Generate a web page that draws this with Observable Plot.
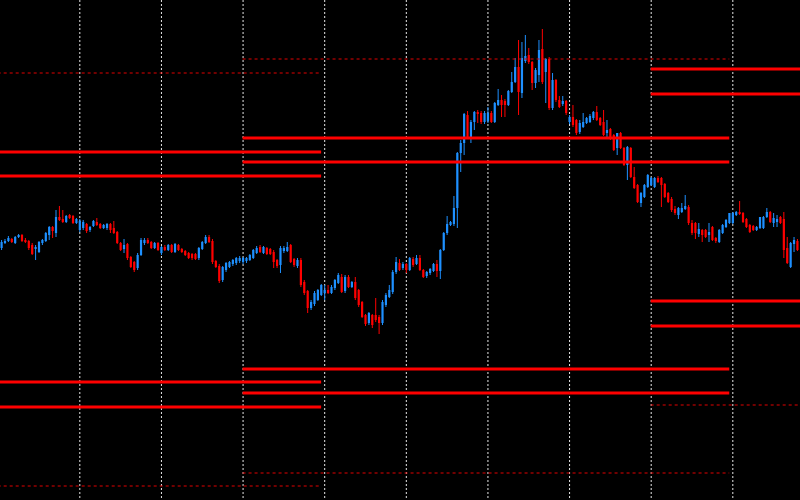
<!DOCTYPE html>
<html><head><meta charset="utf-8">
<script src="https://cdn.jsdelivr.net/npm/d3@7"></script>
<script src="https://cdn.jsdelivr.net/npm/@observablehq/plot@0.6"></script>
<style>html,body{margin:0;padding:0;background:#000;overflow:hidden}#chart{width:800px;height:500px;overflow:hidden}</style>
</head><body><div id="chart"></div>
<script>
// OHLC per hourly bar (arbitrary price units)
const opens = [
252,257,259,261,257,263,265,260,259,255,
251,248,257,259,265,273,267,283,281,278,
285,284,277,270,272,276,270,274,278,276,
272,272,276,272,268,257,251,256,243,238,
232,245,257,260,258,252,257,247,253,250,
255,248,255,251,249,247,246,246,242,251,
257,263,259,239,234,220,230,233,236,237,
239,238,239,240,242,247,253,247,252,251,
248,240,235,249,249,255,241,234,240,218,
209,192,196,200,205,207,210,207,212,217,
223,209,223,213,218,210,198,185,177,185,
185,183,177,195,203,208,228,237,232,236,
230,241,236,242,230,224,227,229,236,229,
250,267,275,276,292,347,357,385,363,378,
388,387,378,379,387,378,395,400,399,395,
408,418,433,407,439,445,438,417,425,451,
428,441,392,420,400,396,399,378,383,380,
368,373,377,378,382,388,382,378,367,371,
365,352,367,352,335,352,323,315,297,303,
313,315,313,322,322,316,307,301,291,285,
288,291,293,277,277,266,270,270,265,273,
262,258,267,273,277,277,285,288,287,281,
275,274,270,272,272,283,288,277,278,283,
281,252,233,256,259];
const highs = [
260,261,264,262,264,266,266,262,260,257,
255,259,261,268,274,274,290,294,290,285,
286,285,282,281,280,277,274,280,282,277,
276,277,277,279,269,258,261,257,244,239,
247,262,262,262,259,258,258,254,255,256,
256,257,256,252,250,248,247,247,253,259,
265,265,261,240,236,234,238,239,241,243,
244,243,243,246,251,254,255,254,253,252,
250,241,254,254,258,256,242,242,242,220,
210,200,209,211,216,215,215,215,221,227,
226,225,225,219,223,211,199,186,188,186,
202,185,200,207,215,230,243,241,238,237,
243,243,245,245,231,229,232,237,240,251,
268,284,279,304,348,360,387,389,380,389,
390,389,389,393,389,398,411,405,401,410,
428,442,460,458,465,452,439,432,460,471,
442,443,427,421,404,404,400,385,395,381,
380,387,383,386,389,394,383,390,380,372,
366,367,368,353,354,353,333,316,308,316,
326,323,323,324,323,317,308,303,294,293,
297,305,295,280,278,277,271,271,277,274,
263,271,276,281,287,288,289,299,288,282,
276,275,274,283,284,292,289,287,285,284,
288,263,258,263,261];
const lows = [
250,256,258,257,256,262,258,257,250,245,
240,247,255,258,260,262,263,279,277,277,
281,276,276,268,270,267,268,273,274,271,
271,270,267,266,256,249,247,240,232,228,
230,244,255,256,251,251,249,245,249,249,
247,247,249,247,244,241,240,240,240,250,
256,257,236,232,217,218,228,232,234,235,
237,236,237,239,241,246,247,246,245,245,
232,232,227,247,248,237,233,232,213,205,
187,190,194,199,204,200,206,206,210,216,
207,207,212,212,200,193,182,174,175,172,
178,166,175,193,202,206,226,229,230,227,
229,233,235,229,222,222,225,228,223,221,
249,265,274,274,272,328,345,361,357,370,
377,376,376,377,377,377,394,383,383,394,
407,417,385,402,437,436,410,412,418,416,
397,390,390,398,392,394,385,376,373,365,
366,372,376,377,380,379,374,364,363,360,
349,345,351,334,320,322,311,297,293,302,
312,314,312,317,293,302,297,288,285,281,
287,290,275,265,261,263,258,262,258,259,
257,257,266,272,276,276,284,285,277,272,
267,269,269,271,271,282,277,273,273,276,
242,236,232,248,249];
const closes = [
258,259,262,258,263,265,259,258,252,246,
253,258,260,267,273,269,283,280,278,284,
282,277,281,279,278,269,273,279,275,272,
275,276,270,267,257,250,255,242,233,230,
245,260,260,257,252,257,250,253,250,255,
248,256,250,248,245,242,242,241,252,258,
263,258,238,233,219,233,237,238,240,242,
242,242,242,245,250,252,248,253,246,246,
238,234,252,252,253,238,235,240,215,207,
192,198,207,210,215,210,207,213,220,225,
208,223,213,218,202,195,183,176,187,175,
180,177,198,205,210,228,238,230,236,230,
242,235,242,230,223,228,231,236,229,250,
267,276,278,292,347,357,386,363,378,388,
386,378,387,387,378,397,400,395,395,409,
418,433,408,442,444,438,417,430,450,418,
441,392,420,400,393,399,387,383,375,367,
377,378,382,384,388,380,375,365,370,362,
350,367,352,335,353,323,312,298,307,315,
325,322,322,318,315,303,298,290,287,292,
292,294,277,267,267,271,265,263,268,260,
259,270,275,280,287,287,288,286,278,273,
268,270,273,283,283,288,278,282,281,277,
250,237,257,260,250];

// day separators (bar index of each day start)
const dayStarts = [23,47,71,95,119,143,167,191,215];

// pivot level segments (bar index span) and their levels
const segStart = [-1, 71, 191];
const segEnd = [94.1, 214.1, 240];
const upperOuter = [427.5, 441.5, 510];   // dotted
const upper2 = [348.5, 362.5, 431.5];
const upper1 = [324.5, 338.5, 406.5];
const lower1 = [118.5, 131.5, 199.5];
const lower2 = [93.5, 107.5, 174.5];
const lowerOuter = [14.5, 27.5, 95.5];     // dotted

const BLUE = "#1e90ff", RED = "#ff0000";

const candles = opens.map((o, i) => ({i, o, h: highs[i], l: lows[i], c: closes[i], up: closes[i] >= o}));

const solid = [], dotted = [];
segStart.forEach((s, k) => {
  const e = segEnd[k];
  [upper2[k], upper1[k], lower1[k], lower2[k]].forEach(v => solid.push({s, e, v}));
  [upperOuter[k], lowerOuter[k]].forEach(v => dotted.push({s, e, v}));
});

const chart = Plot.plot({
  width: 800,
  height: 500,
  margin: 0,
  style: {background: "#000"},
  x: {domain: [-0.32, 234.9], axis: null},
  y: {domain: [0, 500], axis: null},
  marks: [
    Plot.ruleX(dayStarts, {x: d => d, stroke: "#e6e6e6", strokeWidth: 1, strokeDasharray: "2,2"}),
    Plot.ruleX(candles, {x: "i", y1: "l", y2: "h", stroke: d => d.up ? BLUE : RED, strokeWidth: 1}),
    Plot.ruleX(candles, {x: "i", y1: "o", y2: "c", stroke: d => d.up ? BLUE : RED, strokeWidth: 2.2}),
    Plot.ruleY(dotted, {y: "v", x1: "s", x2: "e", stroke: "#e00000", strokeWidth: 1.2, strokeDasharray: "3,3", clip: true}),
    Plot.ruleY(solid, {y: "v", x1: "s", x2: "e", stroke: RED, strokeWidth: 3, clip: true})
  ]
});
document.getElementById("chart").appendChild(chart);
</script>
</body></html>
